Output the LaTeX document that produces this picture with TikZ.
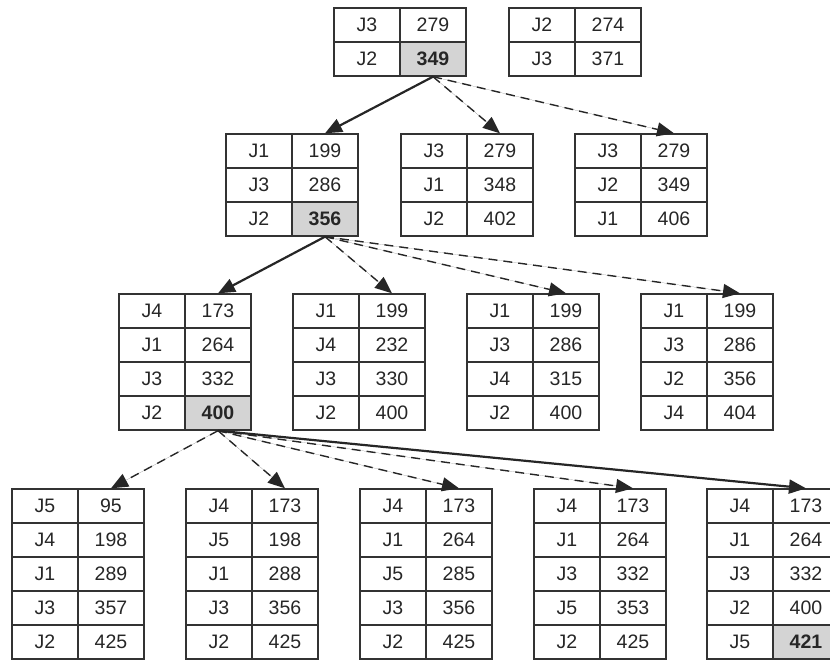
\documentclass[tikz,border=0pt]{standalone}
\usepackage{fontspec}
\setmainfont{Liberation Sans}
\usetikzlibrary{arrows.meta}
\newcommand\mktable[4]{%
  \foreach \l/\v/\h [count=\i] in {#4} {
    \node[cell0] (#1-\i-l) at ({#2+33},{#3+17+34*(\i-1)}) {\l};
    \node[cell\h] (#1-\i-v) at ({#2+99},{#3+17+34*(\i-1)}) {\v};
  }}
\begin{document}
\begin{tikzpicture}[x=1pt,y=-1pt,
  cell/.style={draw=black!80, line width=1.4pt, minimum width=66pt, minimum height=34pt, inner sep=0pt, text=black!85, font=\fontsize{19.5}{21}\selectfont},
  cell0/.style={cell},
  cell1/.style={cell, fill=black!17, font=\fontsize{19.5}{21}\selectfont\bfseries},
  tipx/.style={-{Triangle[length=17pt,width=14pt]}},
  solidarrow/.style={tipx, line width=2.2pt, draw=black!85, fill=black!85},
  dasharrow/.style={tipx, line width=1.4pt, draw=black!85, fill=black!85, dash pattern=on 9pt off 6pt}]
\useasboundingbox (0,0) rectangle (830,659);
% level 1
\mktable{ta}{334}{8}{J3/279/0, J2/349/1}
\mktable{tb}{509}{8}{J2/274/0, J3/371/0}
% level 2
\mktable{ua}{226}{134}{J1/199/0, J3/286/0, J2/356/1}
\mktable{ub}{401}{134}{J3/279/0, J1/348/0, J2/402/0}
\mktable{uc}{575}{134}{J3/279/0, J2/349/0, J1/406/0}
% level 3
\mktable{va}{119}{294}{J4/173/0, J1/264/0, J3/332/0, J2/400/1}
\mktable{vb}{293}{294}{J1/199/0, J4/232/0, J3/330/0, J2/400/0}
\mktable{vc}{467}{294}{J1/199/0, J3/286/0, J4/315/0, J2/400/0}
\mktable{vd}{641}{294}{J1/199/0, J3/286/0, J2/356/0, J4/404/0}
% level 4
\mktable{wa}{12}{489}{J5/95/0, J4/198/0, J1/289/0, J3/357/0, J2/425/0}
\mktable{wb}{186}{489}{J4/173/0, J5/198/0, J1/288/0, J3/356/0, J2/425/0}
\mktable{wc}{360}{489}{J4/173/0, J1/264/0, J5/285/0, J3/356/0, J2/425/0}
\mktable{wd}{534}{489}{J4/173/0, J1/264/0, J3/332/0, J5/353/0, J2/425/0}
\mktable{we}{707}{489}{J4/173/0, J1/264/0, J3/332/0, J2/400/0, J5/421/1}
% arrows
\draw[solidarrow] (ta-2-v.south) -- (ua-1-v.north);
\draw[dasharrow] (ta-2-v.south) -- (ub-1-v.north);
\draw[dasharrow] (ta-2-v.south) -- (uc-1-v.north);
\draw[solidarrow] (ua-3-v.south) -- (va-1-v.north);
\draw[dasharrow] (ua-3-v.south) -- (vb-1-v.north);
\draw[dasharrow] (ua-3-v.south) -- (vc-1-v.north);
\draw[dasharrow] (ua-3-v.south) -- (vd-1-v.north);
\draw[dasharrow] (va-4-v.south) -- (wa-1-v.north);
\draw[dasharrow] (va-4-v.south) -- (wb-1-v.north);
\draw[dasharrow] (va-4-v.south) -- (wc-1-v.north);
\draw[dasharrow] (va-4-v.south) -- (wd-1-v.north);
\draw[solidarrow] (va-4-v.south) -- (we-1-v.north);
\end{tikzpicture}
\end{document}
